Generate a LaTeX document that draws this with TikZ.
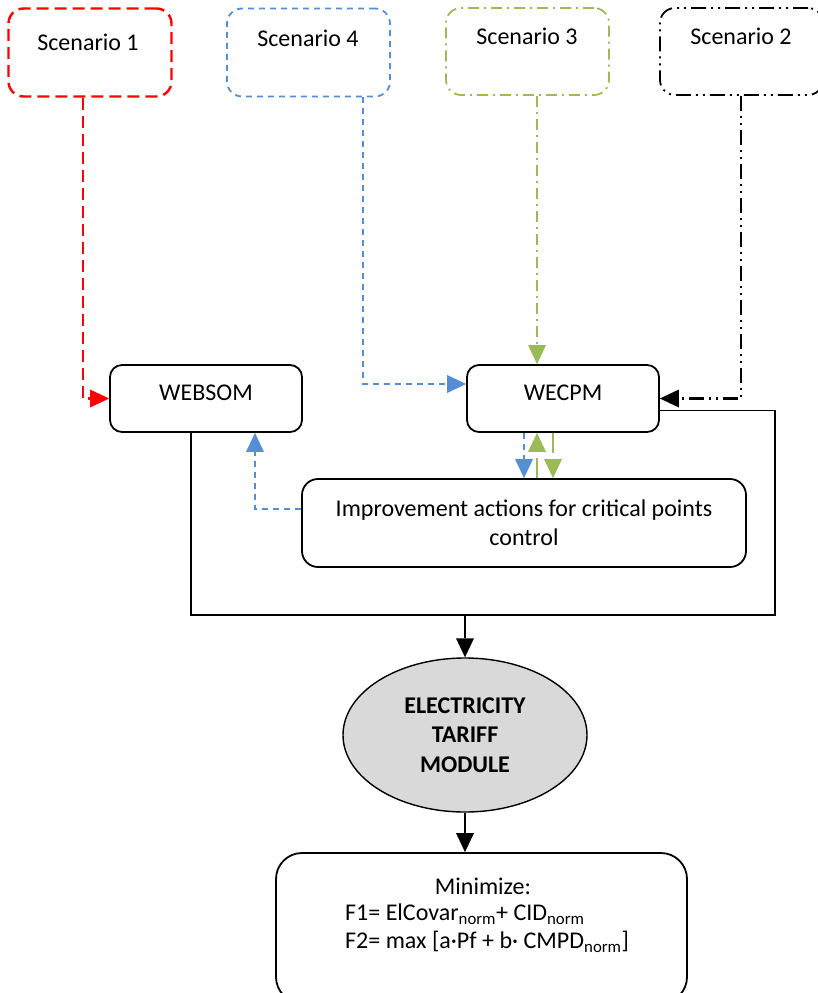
\documentclass[tikz,border=0pt]{standalone}
\usepackage{fontspec}
\setmainfont{Carlito}
\usetikzlibrary{arrows.meta,shapes.geometric}
\definecolor{scred}{RGB}{255,0,0}
\definecolor{scblue}{RGB}{85,142,213}
\definecolor{scgreen}{RGB}{155,187,89}
\definecolor{ellgray}{RGB}{217,217,217}
\tikzset{
  every node/.style={font=\fontsize{24}{29}\selectfont},
  scbox/.style={draw, rounded corners=15pt, minimum width=163pt, minimum height=88pt, line width=1.8pt},
  mainbox/.style={draw, rounded corners=12pt, line width=1.8pt},
  tip/.style={-{Triangle[length=19pt,width=18pt,line width=0pt]}},
  redline/.style={draw=scred, line width=2.2pt, dash pattern=on 12pt off 6pt},
  blueline/.style={draw=scblue, line width=2.2pt, dash pattern=on 6pt off 5pt},
  greenline/.style={draw=scgreen, line width=2.2pt, dash pattern=on 11pt off 5pt on 2pt off 5pt},
  blackline/.style={draw=black, line width=2.2pt, dash pattern=on 15pt off 5pt on 2pt off 5pt on 2pt off 5pt},
  greenlong/.style={draw=scgreen, line width=2.2pt, dash pattern=on 20pt off 8pt},
  solidline/.style={draw=black, line width=1.8pt},
}
\begin{document}
\begin{tikzpicture}[x=1pt,y=-1pt]
\useasboundingbox (0,0) rectangle (818,993);

% scenario boxes
\node[scbox, redline, line width=2.4pt] (s1) at (90,52.5) {};
\node (s1t) at (88,42) {Scenario 1};
\node[scbox, blueline, line width=1.8pt] (s4) at (308.5,52.5) {};
\node (s4t) at (308,38) {Scenario 4};
\node[scbox, greenline, line width=1.8pt, minimum height=87pt] (s3) at (527.5,51.5) {};
\node (s3t) at (527,36) {Scenario 3};
\node[scbox, blackline, line width=1.8pt, minimum height=87pt] (s2) at (741.5,51.5) {};
\node (s2t) at (741,36) {Scenario 2};

% model boxes
\node[mainbox, minimum width=192pt, minimum height=67pt] (websom) at (206,398.5) {};
\node (websomt) at (206,393) {WEBSOM};
\node[mainbox, minimum width=192pt, minimum height=67pt] (wecpm) at (563,398.5) {};
\node (wecpmt) at (563,393) {WECPM};
\node[mainbox, rounded corners=16pt, minimum width=444pt, minimum height=88pt, align=center] (imp) at (524,523)
  {Improvement actions for critical points\\control};

% tariff module and objective
\node[ellipse, draw, line width=1.4pt, fill=ellgray, minimum width=244pt, minimum height=154pt, align=center,
  font=\fontsize{24}{29.5}\selectfont\bfseries] (ell) at (465,735) {ELECTRICITY\\TARIFF\\MODULE};
\node[mainbox, rounded corners=26pt, minimum width=411pt, minimum height=150pt] (minbox) at (481.5,928) {};
\node (mint) at (483,886) {Minimize:};
\node[anchor=west, inner sep=0pt] (f1) at (345,914) {F1= ElCovar\textsubscript{norm}+ CID\textsubscript{norm}};
\node[anchor=west, inner sep=0pt] (f2) at (345,942) {F2= max [a·Pf + b· CMPD\textsubscript{norm}]};

% scenario inputs
\draw[redline, tip] ([xshift=-7pt]s1.south) |- (websom.west);
\draw[blueline, tip] ([xshift=54.5pt]s4.south) |- ([yshift=14.5pt]wecpm.west);
\draw[greenline, tip] ([xshift=9.5pt]s3.south) coordinate (g0) -- (g0 |- wecpm.north);
\draw[blackline, tip] ([xshift=-0.5pt]s2.south) |- (wecpm.east);

% exchange with the improvement actions
\draw[blueline, tip] (wecpm.south -| imp.north) -- (imp.north);
\draw[greenlong, tip] ([xshift=13pt]imp.north) coordinate (gu) -- (gu |- wecpm.south);
\draw[greenlong, dash pattern=on 20pt off 10pt, tip] ([xshift=-10pt]wecpm.south) coordinate (gd) -- (gd |- imp.north);
\draw[blueline, tip] ([yshift=14pt]imp.west) -| ([xshift=49pt]websom.south);

% collector towards the tariff module
\coordinate (fbR) at (775,615);
\coordinate (fbM) at (465,615);
\draw[solidline] ([yshift=-12pt]wecpm.east) -| (fbR) -| ([xshift=-15pt]websom.south);
\draw[solidline, tip] (fbM) -- (ell.north);
\draw[solidline, tip] (ell.south) -- (minbox.north -| ell.south);
\end{tikzpicture}
\end{document}
